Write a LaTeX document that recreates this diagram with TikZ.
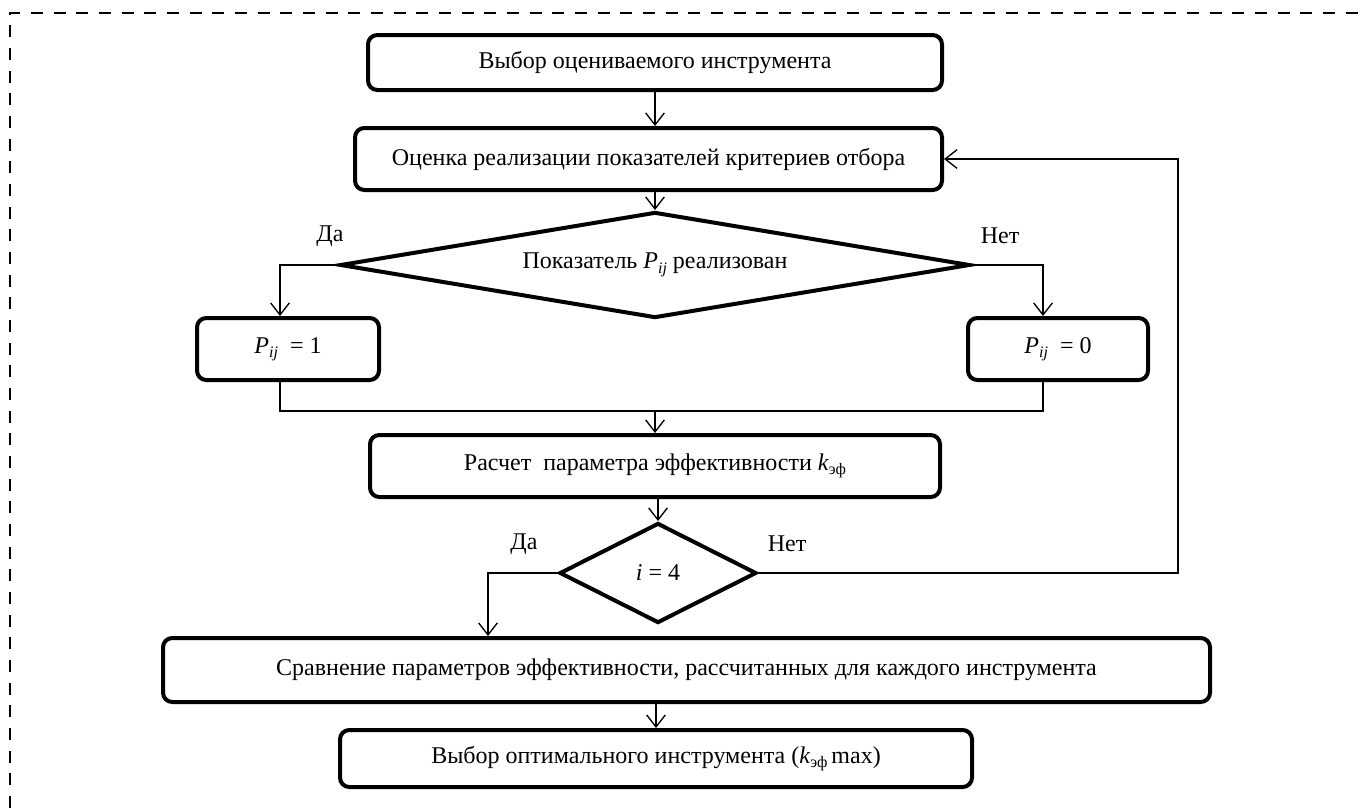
\documentclass[tikz,border=0pt]{standalone}
\usepackage{fontspec}
\setmainfont{Liberation Serif}
\usetikzlibrary{arrows.meta,shapes.geometric}
\newcommand{\Pij}{\textit{P}\raisebox{-0.4ex}{\fontsize{12}{12}\selectfont\textit{ij}}}
\newcommand{\kef}{\textit{k}\raisebox{-0.4ex}{\fontsize{12}{12}\selectfont эф}}
\begin{document}
\begin{tikzpicture}[x=0.75pt,y=-0.75pt,
  txt/.style={font=\fontsize{18}{21}\selectfont},
  box/.style={txt,draw,line width=3pt,rounded corners=7pt,inner sep=0pt},
  dia/.style={txt,draw,line width=3pt,diamond,inner sep=0pt},
  conn/.style={line width=1pt,-{Straight Barb[length=9pt,width=14pt]}},
  plain/.style={line width=1pt},
  frame/.style={line width=0.9pt,dash pattern=on 9pt off 8pt}]
\useasboundingbox (0,0) rectangle (1362,808);
\draw[frame] (10,808) -- (10,13) -- (1362,13);

\node[box,minimum width=430.5pt,minimum height=41.25pt] (b1) at (655,62.5) {Выбор оцениваемого инструмента};
\node[box,minimum width=440.25pt,minimum height=46.5pt] (b2) at (648.5,159) {Оценка реализации показателей критериев отбора};
\node[dia,shape aspect=5.94,minimum width=472.5pt,minimum height=79.5pt] (d1) at (655,265) {Показатель \Pij{} реализован};
\node[box,minimum width=136.5pt,minimum height=46.5pt] (p1) at (288,349) {\Pij{}~ = 1};
\node[box,minimum width=135pt,minimum height=46.5pt] (p0) at (1058,349) {\Pij{}~ = 0};
\node[box,minimum width=427.5pt,minimum height=46.5pt] (b3) at (655,466) {Расчет\ \ параметра эффективности \kef};
\node[dia,shape aspect=1.97,minimum width=147.75pt,minimum height=75pt] (d2) at (658,573) {\textit{i} = 4};
\node[box,minimum width=785.25pt,minimum height=48pt] (b4) at (686.5,670) {Сравнение параметров эффективности, рассчитанных для каждого инструмента};
\node[box,minimum width=474pt,minimum height=42.75pt] (b5) at (656,758.5) {Выбор оптимального инструмента (\kef\,max)};

\node[txt] (da1) at (330,236) {Да};
\node[txt] (net1) at (1000,236) {Нет};
\node[txt] (da2) at (524,544) {Да};
\node[txt] (net2) at (787,544) {Нет};

\coordinate (p1in) at (280,0);
\coordinate (p0in) at (1043,0);
\coordinate (m) at (655,411);
\coordinate (yin) at (488,0);
\coordinate (fb) at (1178,0);

\draw[conn] (b1.south) -- (b1.south |- b2.north);
\draw[conn] (d1.north |- b2.south) -- (d1.north);
\draw[conn] (d1.west) -| (p1in |- p1.north);
\draw[conn] (d1.east) -| (p0in |- p0.north);
\draw[plain] (p1in |- p1.south) |- (m) -| (p0in |- p0.south);
\draw[conn] (m) -- (m |- b3.north);
\draw[conn] (d2.north |- b3.south) -- (d2.north);
\draw[conn] (d2.west) -| (yin |- b4.north);
\draw[conn] (d2.east) -| (fb |- b2.east) -- (b2.east);
\draw[conn] (b5.north |- b4.south) -- (b5.north);
\end{tikzpicture}
\end{document}
